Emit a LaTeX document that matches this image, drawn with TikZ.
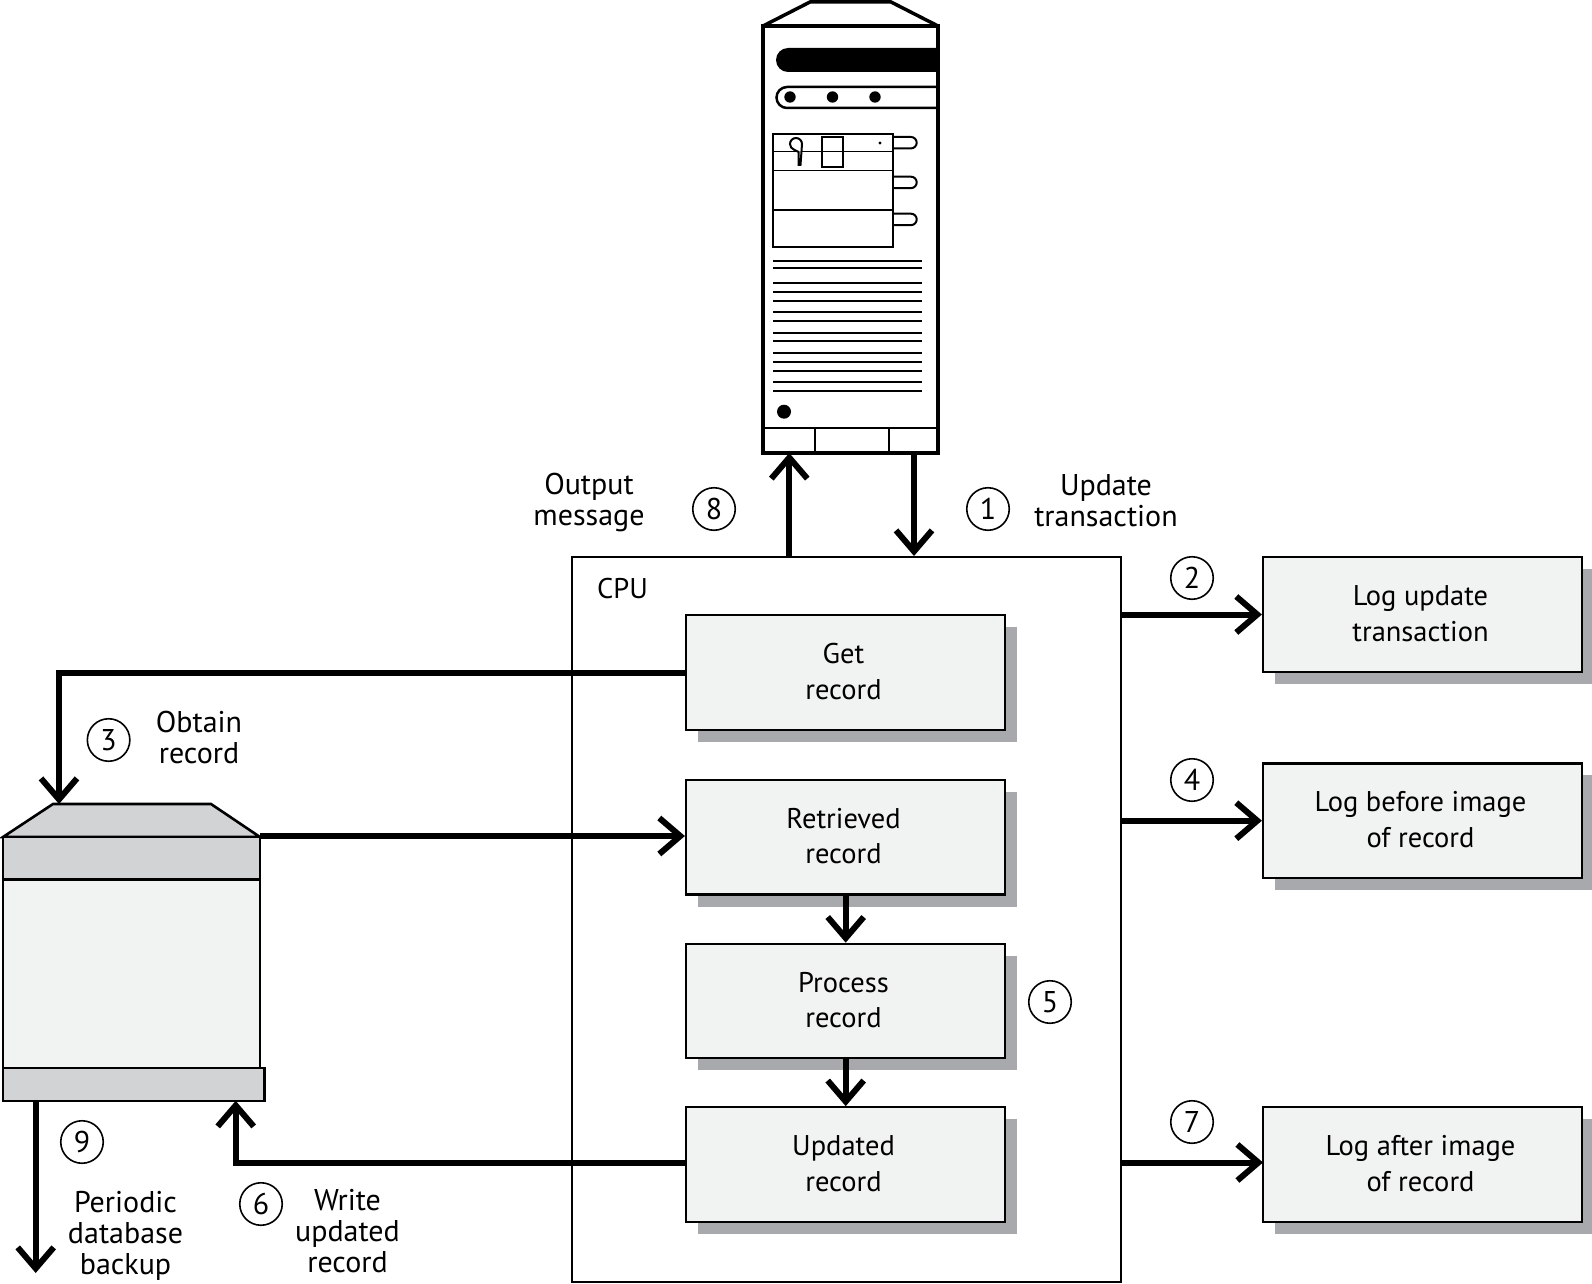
\documentclass[tikz,border=0pt]{standalone}
\usepackage{fontspec}
\setmainfont{PT Sans}
\usetikzlibrary{arrows.meta,shadows}
\definecolor{boxfill}{HTML}{F1F2F2}
\definecolor{bandfill}{HTML}{D1D3D4}
\definecolor{shadowgray}{HTML}{A7A9AC}
\tikzset{
  stepbox/.style={draw,line width=2.2pt,fill=boxfill,minimum width=319pt,minimum height=114.5pt,
    inner sep=0pt,drop shadow={shadow xshift=12pt,shadow yshift=-12pt,fill=shadowgray,opacity=1}},
  steptext/.style={align=center,inner sep=0pt,font=\fontsize{28.5}{35.5}\selectfont},
  numcircle/.style={draw,circle,line width=1.6pt,minimum size=42.5pt,inner sep=0pt,font=\fontsize{30}{30}\selectfont},
  flowlabel/.style={align=center,inner sep=0pt,font=\fontsize{30}{31}\selectfont},
  flow/.style={line width=6pt,-{Straight Barb[length=21pt,width=36pt]}}
}
\begin{document}
\begin{tikzpicture}[x=1pt,y=-1pt]
  \useasboundingbox (0,0) rectangle (1592,1284);
  % terminal
  \draw[line width=3.5pt,line join=miter] (763,26) -- (810,2) -- (891,2) -- (938,26);
  \node[draw,line width=3.5pt,minimum width=175pt,minimum height=427pt,inner sep=0pt] (terminal) at (850.5,239.5) {};
  \draw[line width=2.5pt] (763,428) -- (938,428) (815,428) -- (815,453) (889,428) -- (889,453);
  \fill (938,48) -- (788,48) arc[start angle=-90,end angle=-270,radius=12] -- (938,72) -- cycle;
  \draw[line width=2.5pt] (938,87) -- (787,87) arc[start angle=-90,end angle=-270,radius=10.5] -- (938,108);
  \foreach \x in {790,832.5,875}{\fill (\x,97) circle[radius=5.7];}
  \draw[line width=2pt] (773,134) rectangle (893,247);
  \foreach \y in {151.7,170.7,210}{\draw[line width=1.6pt] (773,\y) -- (893,\y);}
  \foreach \y in {137,176.7,213.7}{
    \draw[line width=2pt] (893,\y) -- (911,\y) arc[start angle=-90,end angle=90,radius=5.7] -- (893,\y+11.4);}
  \draw[line width=2pt] (822.3,137) rectangle (843,166.7);
  \fill (880,143) circle[radius=1.6];
  \draw[line width=2pt,fill=white] (800.5,165) -- (802,144) arc[start angle=0,end angle=-250,radius=6] -- (798.5,152) -- (798.5,165) -- cycle;
  \foreach \y in {260.7,268.3,283,291.7,300.7,312,320.7,332.7,341,353,362,370.7,382.3,391}{
    \draw[line width=1.9pt] (773,\y) -- (922,\y);}
  \fill (784,411.7) circle[radius=7];
  \coordinate (termin) at (789.3,453);
  \coordinate (termout) at (914,453);

  % cpu and its steps
  \node[draw,line width=2pt,minimum width=549.5pt,minimum height=725pt,inner sep=0pt] (cpu) at (846.3,919.5) {};
  \node[steptext] (cpulabel) at (622.5,589) {CPU};
  \foreach \n/\y/\t in {getrec/672.5/Get\\record, retrieved/837.3/Retrieved\\record,
                        process/1001/Process\\record, updated/1164.5/Updated\\record}{
    \node[stepbox] (\n) at (845.5,\y) {};
    \node[steptext] (\n text) at (843.5,\y-1) {\t};}
  \foreach \n/\y/\t in {logupdate/614.5/Log update\\transaction, logbefore/820.7/Log before image\\of record,
                        logafter/1164.5/Log after image\\of record}{
    \node[stepbox] (\n) at (1422.5,\y) {};
    \node[steptext] (\n text) at (1420.5,\y-1) {\t};}

  % database
  \draw[line width=2.6pt,fill=bandfill] (3,837) -- (53,804) -- (211,804) -- (260,837) -- cycle;
  \node[draw,line width=2.4pt,fill=bandfill,minimum width=257pt,minimum height=42.5pt,inner sep=0pt] (dbtop) at (131.5,858.2) {};
  \node[draw,line width=2.4pt,fill=boxfill,minimum width=257pt,minimum height=188.5pt,inner sep=0pt] (dbbody) at (131.5,973.7) {};
  \node[draw,line width=2.4pt,fill=bandfill,minimum width=261.5pt,minimum height=33pt,inner sep=0pt] (dbfoot) at (133.8,1084.3) {};
  \coordinate (dbin) at (59,804);
  \coordinate (dbout) at (260,836);
  \coordinate (dbback) at (235.7,1100.8);
  \coordinate (dbdump) at (35.7,1100.8);
  \coordinate (dumpend) at (35.7,1273);
  \coordinate (cpuright2) at (1121,614.5);
  \coordinate (cpuright4) at (1121,820.7);
  \coordinate (cpuright7) at (1121,1162.5);
  \coordinate (logafterin) at (1263,1162.5);
  \coordinate (updatedout) at (686,1162.5);

  % connectors
  \draw[flow] (termout) -- (termout |- cpu.north);
  \draw[flow] (termin |- cpu.north) -- (termin);
  \draw[flow] (cpuright2) -- (logupdate.west);
  \draw[flow] (cpuright4) -- (logbefore.west);
  \draw[flow] (cpuright7) -- (logafterin);
  \draw[flow,line join=miter] (getrec.west) -| (dbin);
  \draw[flow] (dbout) -- (dbout -| retrieved.west);
  \draw[flow] (845.7,0 |- retrieved.south) -- (845.7,0 |- process.north);
  \draw[flow] (845.7,0 |- process.south) -- (845.7,0 |- updated.north);
  \draw[flow,line join=miter] (updatedout) -| (dbback);
  \draw[flow] (dbdump) -- (dumpend);

  % numbers and labels
  \foreach \n/\x/\y in {1/988/509, 2/1192/578, 3/108.6/740, 4/1192/780, 5/1050/1002,
                        6/261/1204, 7/1192/1122, 8/714/509, 9/82/1142}{
    \node[numcircle] (num\n) at (\x,\y) {\n};}
  \node[flowlabel] (outlabel) at (589,502.5) {Output\\message};
  \node[flowlabel] (updlabel) at (1106,500.5) {Update\\transaction};
  \node[flowlabel] (obtlabel) at (199,737) {Obtain\\record};
  \node[flowlabel] (dumplabel) at (125.5,1236) {Periodic\\database\\backup};
  \node[flowlabel] (writelabel) at (347.5,1231) {Write\\updated\\record};
\end{tikzpicture}
\end{document}
